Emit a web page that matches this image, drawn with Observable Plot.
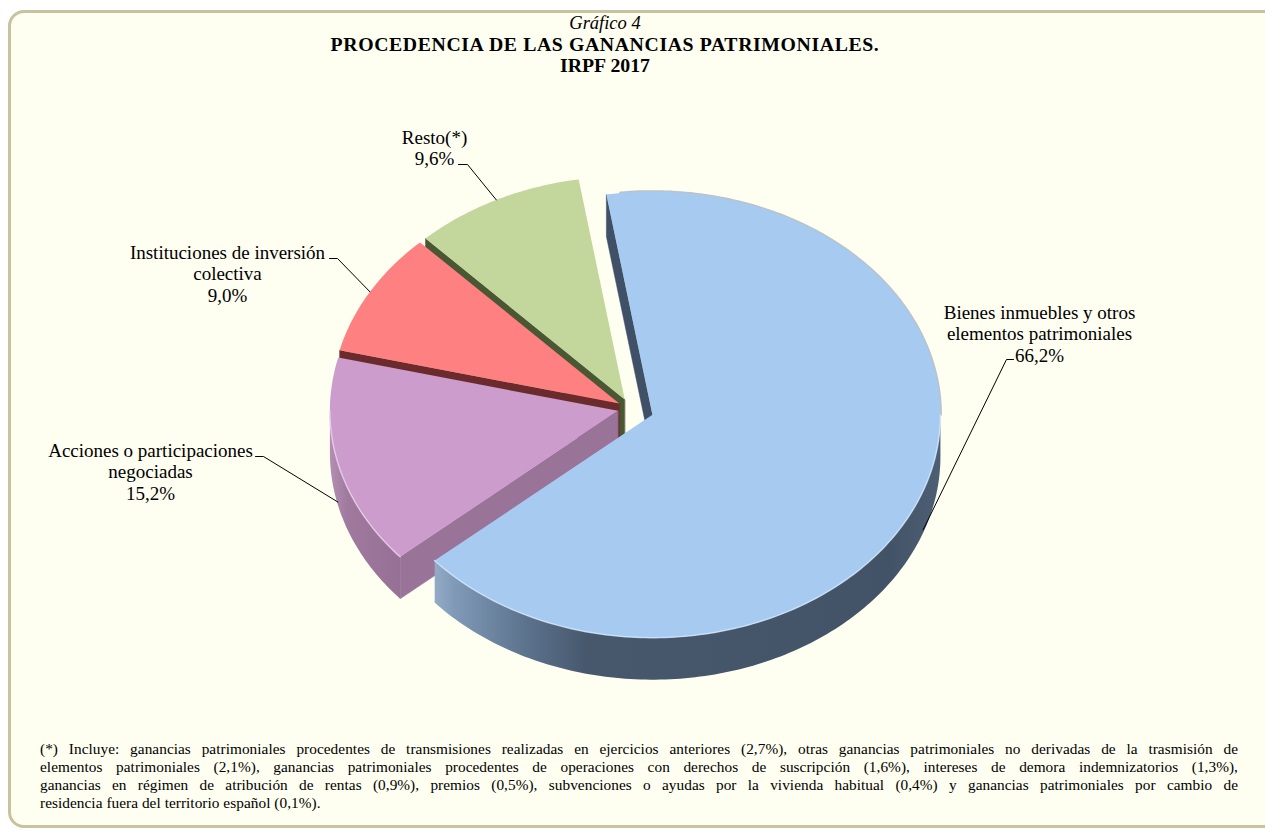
<!DOCTYPE html>
<html><head><meta charset="utf-8">
<script src="https://cdn.jsdelivr.net/npm/d3@7"></script>
<script src="https://cdn.jsdelivr.net/npm/@observablehq/plot@0.6"></script>
<style>
html,body{margin:0;padding:0;background:#fff;}
body{width:1265px;height:832px;overflow:hidden;position:relative;font-family:"Liberation Serif","Times New Roman",serif;color:#000;}
#frame{position:absolute;left:8px;top:10px;width:1272px;height:818px;box-sizing:border-box;border:3px solid #c9c29e;border-radius:16px;background:#fefef1;}
.t{position:absolute;left:0;width:1210px;text-align:center;font-size:18.5px;line-height:22px;white-space:nowrap;}
.b{font-weight:bold;font-size:19.8px;}
#chart{position:absolute;left:0;top:100px;}
#note{position:absolute;left:40px;top:740px;width:1198px;font-size:15.3px;line-height:18px;letter-spacing:0.05px;}
#note div{text-align:justify;text-align-last:justify;white-space:nowrap;}
#note div.last{text-align-last:left;}
</style>
</head><body>
<div id="frame"></div>
<div class="t" style="top:12px;font-style:italic;">Gráfico 4</div>
<div class="t b" style="top:33px;letter-spacing:0.6px;">PROCEDENCIA DE LAS GANANCIAS PATRIMONIALES.</div>
<div class="t b" style="top:54px;">IRPF 2017</div>
<div id="chart"></div>
<div id="note">
<div>(*) Incluye: ganancias patrimoniales procedentes de transmisiones realizadas en ejercicios anteriores (2,7%), otras ganancias patrimoniales no derivadas de la trasmisión de</div>
<div>elementos patrimoniales (2,1%), ganancias patrimoniales procedentes de operaciones con derechos de suscripción (1,6%), intereses de demora indemnizatorios (1,3%),</div>
<div>ganancias en régimen de atribución de rentas (0,9%), premios (0,5%), subvenciones o ayudas por la vivienda habitual (0,4%) y ganancias patrimoniales por cambio de</div>
<div class="last">residencia fuera del territorio español (0,1%).</div>
</div>
<script>
// ---- data ----
const categories = [
  "Bienes inmuebles y otros elementos patrimoniales",
  "Acciones o participaciones negociadas",
  "Instituciones de inversión colectiva",
  "Resto(*)"
];
const labelLines = [
  ["Bienes inmuebles y otros", "elementos patrimoniales"],
  ["Acciones o participaciones", "negociadas"],
  ["Instituciones de inversión", "colectiva"],
  ["Resto(*)"]
];
const shares = [66.2, 15.2, 9.0, 9.6];

// ---- styles / layout ----
const topColors = ["#a6caf0", "#cc9ccd", "#ff8080", "#c3d69b"];
const wallColors = ["url(#gBlueWall)", "url(#gPurpleWall)", "#7a2f2f", "#56653d"];
const radialColors = ["#3f5067", "#9a7398", "#6b2a2c", "#4a5733"];
const rimColors = ["#d3e6fb", "#ecd0ee", "#ffb0b0", "#e0ecc6"];
const explode = [0.081, 0.045, 0.045, 0.045];
const G = {cx: 630, cy: 408, rx: 288, ry: 223, depth: 42, start: -9.2 * Math.PI / 180};
const labelLayout = [
  {x: 1039, y: 317, lx0: 1013, lx1: 1006, ly: 359},
  {x: 150, y: 455, lx0: 255, lx1: 263, ly: 456},
  {x: 227, y: 257, lx0: 329, lx1: 337, ly: 258},
  {x: 434, y: 142, lx0: 458, lx1: 467, ly: 164}
];
const fontSize = 19;
const lineH = 1.12;

const fmt = v => d3.format(".1f")(v).replace(".", ",") + "%";
const TAU = 2 * Math.PI;
const arcs = d3.pie().sort(null).startAngle(G.start).endAngle(G.start + TAU)(shares);
const slices = arcs.map((a, i) => {
  const mid = (a.startAngle + a.endAngle) / 2;
  return {i, t0: a.startAngle, t1: a.endAngle, mid,
    ox: G.cx + explode[i] * G.rx * Math.sin(mid),
    oy: G.cy - explode[i] * G.ry * Math.cos(mid)};
});
const P = (s, t, dz = 0) => ({x: s.ox + G.rx * Math.sin(t), y: s.oy - G.ry * Math.cos(t) + dz});
const arcPts = (s, t0, t1, dz = 0) => {
  const n = Math.max(2, Math.ceil(Math.abs(t1 - t0) / (Math.PI / 180)));
  return d3.range(n + 1).map(k => P(s, t0 + (t1 - t0) * k / n, dz));
};
const C = (s, dz = 0) => ({x: s.ox, y: s.oy + dz});

// radial walls (visible ones), drawn back to front
const radialWalls = [];
slices.forEach(s => {
  if (-Math.sin(s.t0) > 0) radialWalls.push({s, t: s.t0, id: "rs" + s.i});
  if (Math.sin(s.t1) > 0) radialWalls.push({s, t: s.t1, id: "re" + s.i});
});
radialWalls.sort((a, b) => (P(a.s, a.t).y + a.s.oy) - (P(b.s, b.t).y + b.s.oy));
const radial = [];
radialWalls.forEach(w => {
  [C(w.s), P(w.s, w.t), P(w.s, w.t, G.depth), C(w.s, G.depth)].forEach(p => radial.push({...p, id: w.id, fill: radialColors[w.s.i]}));
});
// outer front walls
const walls = [], rims = [], backEdge = [];
slices.forEach(s => {
  const b0 = Math.max(s.t0, Math.PI / 2), b1 = Math.min(s.t1, 3 * Math.PI / 2);
  if (b1 > b0) {
    arcPts(s, b0, b1).concat(arcPts(s, b1, b0, G.depth)).forEach(p => walls.push({...p, id: "w" + s.i, fill: wallColors[s.i]}));
    arcPts(s, b0, b1).forEach(p => rims.push({...p, id: "r" + s.i, stroke: rimColors[s.i]}));
  }
});
// soft back edge of the big slice
{
  const s = slices[0];
  arcPts(s, s.t0 + 0.05, Math.PI / 2).forEach(p => backEdge.push({...p, id: "b0"}));
}
// tops
const tops = [];
slices.forEach(s => {
  [C(s)].concat(arcPts(s, s.t0, s.t1)).forEach(p => tops.push({...p, id: "t" + s.i, fill: topColors[s.i]}));
});
// leaders
const leaders = [];
slices.forEach(s => {
  const L = labelLayout[s.i];
  const front = -Math.cos(s.mid) > 0;
  const end = P(s, s.mid, front ? G.depth * 0.93 : 0);
  [{x: L.lx0, y: L.ly}, {x: L.lx1, y: L.ly}, end].forEach(p => leaders.push({...p, id: "l" + s.i}));
});
// labels
const labels = slices.map(s => ({
  x: labelLayout[s.i].x,
  y: labelLayout[s.i].y - 0.71 * fontSize,
  text: labelLines[s.i].concat([fmt(shares[s.i])]).join("\n")
}));

const H0 = 100, H = 610;
const svg = Plot.plot({
  width: 1265, height: H, margin: 0,
  x: {domain: [0, 1265], range: [0, 1265], axis: null},
  y: {domain: [H0, H0 + H], range: [0, H], axis: null},
  color: {type: "identity"},
  style: {background: "transparent", overflow: "visible"},
  marks: [
    Plot.line(radial, {x: "x", y: "y", z: "id", fill: "fill", stroke: "fill", strokeWidth: 0.5, curve: "linear-closed"}),
    Plot.line(walls, {x: "x", y: "y", z: "id", fill: "fill", stroke: null, curve: "linear-closed"}),
    Plot.line(backEdge, {x: "x", y: "y", z: "id", stroke: "#8a9bb0", strokeWidth: 3, strokeOpacity: 0.6}),
    Plot.line(tops, {x: "x", y: "y", z: "id", fill: "fill", stroke: null, curve: "linear-closed"}),
    Plot.line(rims, {x: "x", y: "y", z: "id", stroke: "stroke", strokeWidth: 1.5, strokeOpacity: 0.8}),
    Plot.line(leaders, {x: "x", y: "y", z: "id", stroke: "#000", strokeWidth: 1, curve: "linear"}),
    Plot.text(labels, {x: "x", y: "y", text: "text", textAnchor: "middle", lineAnchor: "top", lineHeight: lineH,
      fontSize: fontSize, fontFamily: "'Liberation Serif','Times New Roman',serif", fill: "#000"})
  ]
});
const NS = "http://www.w3.org/2000/svg";
const defs = document.createElementNS(NS, "defs");
function grad(id, stops) {
  const g = document.createElementNS(NS, "linearGradient");
  g.setAttribute("id", id); g.setAttribute("x1", "0"); g.setAttribute("x2", "1"); g.setAttribute("y1", "0"); g.setAttribute("y2", "0");
  stops.forEach(([o, c]) => { const st = document.createElementNS(NS, "stop"); st.setAttribute("offset", o); st.setAttribute("stop-color", c); g.appendChild(st); });
  defs.appendChild(g);
}
grad("gBlueWall", [[0, "#93abc6"], [0.04, "#7f99b7"], [0.18, "#5c738d"], [0.3, "#47586d"], [0.9, "#435367"], [1, "#4d5f75"]]);
grad("gPurpleWall", [[0, "#b48fb2"], [0.25, "#a07a9e"], [1, "#977095"]]);
svg.insertBefore(defs, svg.firstChild);
document.getElementById("chart").appendChild(svg);
</script>
</body></html>
